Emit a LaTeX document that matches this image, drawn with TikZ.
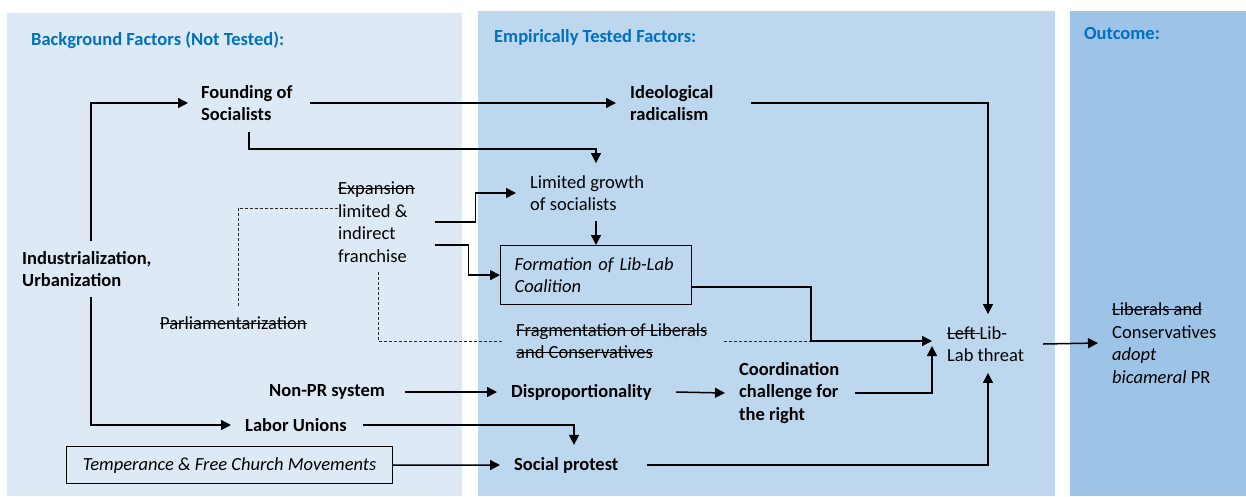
\documentclass[tikz,border=0pt]{standalone}
\usepackage{fontspec}
\setmainfont{Carlito}
\usetikzlibrary{arrows.meta,calc}
\definecolor{bgA}{HTML}{DEE9F6}
\definecolor{bgB}{HTML}{BDD7EE}
\definecolor{bgC}{HTML}{9DC3E6}
\definecolor{ttlblue}{HTML}{0070C0}
\newcommand\strk[1]{\setbox0\hbox{#1}\rlap{\rule[0.28em]{\wd0}{0.07em}}\box0}
\begin{document}
\begin{tikzpicture}[x=1pt,y=-1pt,
  txt/.style={anchor=west,inner sep=0pt,align=left,font=\fontsize{18.5}{22.5}\selectfont},
  bt/.style={txt,font=\fontsize{18.5}{22.5}\selectfont\bfseries},
  ttl/.style={anchor=west,inner sep=0pt,font=\fontsize{18.5}{22}\selectfont\bfseries,text=ttlblue},
  arr/.style={draw,line width=1.5pt,-{Triangle[length=10pt,width=10pt]}},
  dotln/.style={draw=black!85,line width=0.9pt,dash pattern=on 3pt off 2pt},
  boxed/.style={draw,line width=1.2pt}]
\useasboundingbox (0,0) rectangle (1246,496);
\fill[white] (0,0) rectangle (1246,496);
\fill[bgA] (7,13) rectangle (462,496);
\fill[bgB] (478,11) rectangle (1055,496);
\fill[bgC] (1070,11) rectangle (1246,496);
% titles
\node[ttl] (t1) at (31,40) {Background Factors (Not Tested):};
\node[ttl] (t2) at (494,37) {Empirically Tested Factors:};
\node[ttl] (t3) at (1084,33) {Outcome:};
% nodes
\node[bt] (found) at (201,103) {Founding of\\Socialists};
\node[bt] (ideo) at (630,103) {Ideological\\radicalism};
\node[txt] (limg) at (530,193) {Limited growth\\of socialists};
\node[txt] (expan) at (338,222) {\strk{Expansion}\\limited \&\\indirect\\franchise};
\node[boxed,anchor=north west,minimum width=191pt,minimum height=59pt,text width=163pt,inner xsep=14pt,inner ysep=0pt,align=left,font=\fontsize{18.5}{22.5}\selectfont\itshape] (form) at (500,245) {Formation of Lib-Lab\\Coalition};
\node[txt] (frag) at (516,341) {\strk{Fragmentation of Liberals}\\\strk{and Conservatives}};
\node[txt] (parl) at (160,323) {\strk{Parliamentarization}};
\node[bt] (indus) at (22,269) {Industrialization,\\Urbanization};
\node[bt] (nonpr) at (269,392) {Non-PR system};
\node[bt] (disp) at (511,392) {Disproportionality};
\node[bt] (coord) at (739,393) {Coordination\\challenge for\\the right};
\node[bt] (labor) at (245,425) {Labor Unions};
\node[boxed,anchor=north west,minimum width=326pt,minimum height=37pt,inner sep=0pt,font=\fontsize{18.5}{22.5}\selectfont\itshape] (temp) at (66,446) {Temperance \& Free Church Movements};
\node[bt] (soc) at (514,465) {Social protest};
\node[txt] (lablab) at (947,344) {\strk{Left }Lib-\\Lab threat};
\node[txt] (outc) at (1112,343) {\strk{Liberals and}\\Conservatives\\\textit{adopt}\\\textit{bicameral} PR};
% connectors
\draw[arr] ($(indus.north west)+(69,-10)$) |- ($(found.west)+(-13,0)$);
\draw[arr] ($(indus.south west)+(69,10)$) |- ($(labor.west)+(-14,0)$);
\draw[arr] ($(found.east)+(17,0)$) -- ($(ideo.west)+(-14,0)$);
\draw[arr] ($(found.south west)+(48,11)$) |- ($(limg.north west)+(66,-26)$) -- ($(limg.north west)+(66,-12)$);
\coordinate (l1) at ($(limg.south west)+(66,10)$);
\draw[arr] (l1) -- (l1 |- form.north);
\draw[arr] ($(expan.east)+(20,0)$) -- ++(41,0) |- ($(limg.west)+(-14,0)$);
\draw[arr] ($(expan.east)+(20,23)$) -- ++(34,0) |- (form.west);
\draw[dotln] ($(parl.north west)+(78,-10)$) |- ($(expan.west)+(0,-14)$);
\draw[dotln] ($(expan.south west)+(40,10)$) |- ($(frag.west)+(-14,0)$);
\coordinate (fj) at ($(lablab.west)+(-136,-3)$);
\draw[dotln] ($(frag.east)+(16,0)$) -- (fj);
\draw[arr] ($(form.east)+(0,12)$) -| (fj) -- ($(lablab.west)+(-15,-3)$);
\draw[arr] ($(nonpr.east)+(20,0)$) -- ($(disp.west)+(-14,0)$);
\draw[arr] ($(disp.east)+(24,0)$) -- ($(coord.west)+(-14,0)$);
\draw[arr] ($(coord.east)+(15,0)$) -| ($(lablab.west)+(-15,2)$);
\draw[arr] ($(labor.east)+(16,0)$) -| ($(soc.north west)+(60,-12)$);
\draw[arr] (temp.east) -- ($(soc.west)+(-14,0)$);
\draw[arr] ($(soc.east)+(28,0)$) -| ($(lablab.south west)+(41,11)$);
\draw[arr] ($(ideo.east)+(37,0)$) -| ($(lablab.north west)+(41,-12)$);
\draw[arr] ($(lablab.east)+(19,0)$) -- ($(outc.west)+(-14,0)$);
\end{tikzpicture}
\end{document}
